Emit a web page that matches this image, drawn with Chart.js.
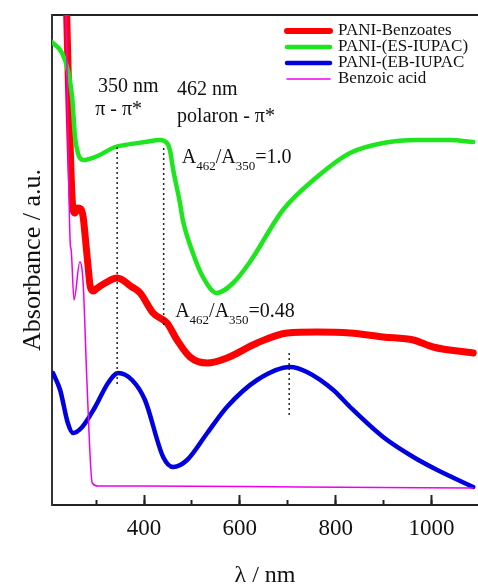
<!DOCTYPE html>
<html>
<head>
<meta charset="utf-8">
<script src="https://cdn.jsdelivr.net/npm/chart.js@4/dist/chart.umd.min.js"></script>
<style>
  html, body { margin: 0; padding: 0; background: #fff; }
</style>
</head>
<body>
<canvas id="uv_chart" width="478" height="585"></canvas>
<script>
// wavelength (nm) and absorbance (a.u.)
const benzoatesNm  = [236, 252, 256, 262, 268, 273, 278, 283, 288, 295, 300, 319, 344, 375, 392, 419, 448, 469, 496, 532, 573, 636, 699, 761, 830, 899, 962, 1003, 1087];
const benzoatesAbs = [5.35, 2.95, 2.92, 2.97, 2.96, 2.88, 2.65, 2.40, 2.18, 2.14, 2.16, 2.22, 2.27, 2.18, 2.12, 1.92, 1.82, 1.65, 1.48, 1.42, 1.47, 1.62, 1.72, 1.73, 1.72, 1.68, 1.65, 1.58, 1.52];

const esNm  = [208, 229, 241, 250, 256, 262, 273, 298, 340, 360, 402, 433, 448, 454, 461, 475, 481, 502, 523, 552, 586, 621, 690, 761, 830, 899, 970, 1039, 1087];
const esAbs = [4.63, 4.52, 4.35, 4.08, 3.68, 3.52, 3.45, 3.48, 3.58, 3.60, 3.63, 3.65, 3.62, 3.55, 3.35, 3.02, 2.85, 2.52, 2.28, 2.12, 2.22, 2.43, 2.95, 3.28, 3.52, 3.62, 3.65, 3.65, 3.63];

const ebNm  = [210, 225, 241, 252, 271, 298, 325, 346, 375, 402, 440, 461, 490, 532, 573, 636, 705, 740, 795, 830, 899, 962, 1012, 1087];
const ebAbs = [1.32, 1.15, 0.82, 0.72, 0.78, 0.98, 1.22, 1.32, 1.25, 1.05, 0.48, 0.38, 0.45, 0.72, 0.98, 1.25, 1.38, 1.33, 1.15, 0.98, 0.68, 0.48, 0.35, 0.18];

const acidNm  = [236, 246, 248, 254, 266, 273, 281, 292, 304, 392, 726, 1087];
const acidAbs = [5.35, 2.62, 2.55, 2.05, 2.43, 2.22, 1.22, 0.22, 0.19, 0.19, 0.18, 0.17];

const xTicksMajor = [400, 600, 800, 1000];

// guide lines and notes, in data units
const dottedLines = [
  { nm: 344, from: 3.58, to: 1.20 },
  { nm: 441, from: 3.57, to: 1.78 },
  { nm: 703, from: 1.52, to: 0.90 }
];
const notes = [
  { text: "350 nm", nm: 304, abs: 4.13 },
  { text: "π - π*", nm: 298, abs: 3.90 },
  { text: "462 nm", nm: 469, abs: 4.10 },
  { text: "polaron - π*", nm: 469, abs: 3.83 }
];
const ratios = [
  { value: "=1.0", nm: 479, abs: 3.42 },
  { value: "=0.48", nm: 465, abs: 1.88 }
];

function points(xs, ys) {
  return xs.map(function (x, i) { return { x: x, y: ys[i] }; });
}

const SERIF = "'Liberation Serif', 'Times New Roman', serif";

const notesPlugin = {
  id: "notes",
  afterDatasetsDraw(chart) {
    const ctx = chart.ctx;
    const xs = chart.scales.x, ys = chart.scales.y;
    ctx.save();
    ctx.strokeStyle = "#222";
    ctx.lineWidth = 1.5;
    ctx.setLineDash([2, 3]);
    dottedLines.forEach(function (d) {
      const px = xs.getPixelForValue(d.nm);
      ctx.beginPath();
      ctx.moveTo(px, ys.getPixelForValue(d.from));
      ctx.lineTo(px, ys.getPixelForValue(d.to));
      ctx.stroke();
    });
    ctx.setLineDash([]);

    ctx.fillStyle = "#111";
    ctx.textBaseline = "alphabetic";
    ctx.textAlign = "left";
    ctx.font = "20px " + SERIF;
    notes.forEach(function (n) {
      ctx.fillText(n.text, xs.getPixelForValue(n.nm), ys.getPixelForValue(n.abs));
    });

    ratios.forEach(function (r) {
      let px = xs.getPixelForValue(r.nm);
      const py = ys.getPixelForValue(r.abs);
      const parts = [["A", 0], ["462", 1], ["/A", 0], ["350", 1], [r.value, 0]];
      parts.forEach(function (p) {
        ctx.font = (p[1] ? "13px " : "20px ") + SERIF;
        ctx.fillText(p[0], px, py + (p[1] ? 7 : 0));
        px += ctx.measureText(p[0]).width;
      });
    });

    // legend in the upper right corner
    const area = chart.chartArea;
    ctx.font = "17px " + SERIF;
    ctx.textBaseline = "middle";
    chart.data.datasets.forEach(function (ds, i) {
      const y = area.top + 16 + i * 16;
      const x0 = area.left + 235;
      ctx.strokeStyle = ds.borderColor;
      ctx.lineWidth = Math.min(ds.borderWidth, 6);
      ctx.lineCap = "round";
      ctx.beginPath();
      ctx.moveTo(x0, y);
      ctx.lineTo(x0 + 43, y);
      ctx.stroke();
      ctx.fillStyle = "#111";
      ctx.fillText(ds.label, x0 + 51, y);
    });
    ctx.restore();
  }
};

new Chart("uv_chart", {
  type: "line",
  data: {
    datasets: [
      { label: "PANI-Benzoates", data: points(benzoatesNm, benzoatesAbs), borderColor: "#ff0000", borderWidth: 7, order: 3 },
      { label: "PANI-(ES-IUPAC)", data: points(esNm, esAbs), borderColor: "#1ee61e", borderWidth: 4.5, order: 1 },
      { label: "PANI-(EB-IUPAC", data: points(ebNm, ebAbs), borderColor: "#0000e0", borderWidth: 4.5, order: 2 },
      { label: "Benzoic acid", data: points(acidNm, acidAbs), borderColor: "#ee00ee", borderWidth: 1.5, order: 0 }
    ]
  },
  options: {
    responsive: false,
    animation: false,
    layout: { padding: { top: 15, right: 0, bottom: 0, left: 0 } },
    elements: {
      point: { radius: 0 },
      line: { cubicInterpolationMode: "monotone", borderCapStyle: "round", borderJoinStyle: "round" }
    },
    datasets: { line: { clip: 0 } },
    plugins: { legend: { display: false }, tooltip: { enabled: false } },
    scales: {
      x: {
        type: "linear",
        min: 208,
        max: 1097,
        weight: 1,
        afterFit: function (s) { s.height = 80; },
        afterBuildTicks: function (s) { s.ticks = xTicksMajor.map(function (v) { return { value: v }; }); },
        border: { display: true, color: "#222", width: 2 },
        grid: { drawOnChartArea: false, drawTicks: true, tickLength: -10, tickColor: "#222", tickWidth: 2 },
        ticks: {
          padding: 22, color: "#111", maxRotation: 0,
          font: { family: SERIF, size: 23, lineHeight: 1 },
          callback: function (v) { return String(v); }
        },
        title: { display: true, text: "λ / nm", color: "#111", font: { family: SERIF, size: 24, lineHeight: 0.8 }, padding: 0 }
      },
      xMinor: {
        type: "linear",
        position: "bottom",
        min: 208,
        max: 1097,
        weight: 0,
        afterFit: function (s) { s.height = 0; },
        border: { display: false },
        grid: { drawOnChartArea: false, drawTicks: true, tickLength: -5, tickColor: "#222", tickWidth: 2 },
        ticks: { display: false, stepSize: 100, includeBounds: false }
      },
      xTop: {
        type: "linear",
        position: "top",
        min: 208,
        max: 1097,
        afterFit: function (s) { s.height = 0; },
        border: { display: true, color: "#222", width: 2 },
        grid: { display: false },
        ticks: { display: false }
      },
      y: {
        min: 0,
        max: 4.9,
        afterFit: function (s) { s.width = 52; },
        border: { display: true, color: "#333", width: 2 },
        grid: { display: false },
        ticks: { display: false },
        title: { display: true, text: "Absorbance / a.u.", color: "#111", font: { family: SERIF, size: 26, lineHeight: 1 }, padding: { top: 20 } }
      }
    }
  },
  plugins: [notesPlugin]
});
</script>
</body>
</html>
